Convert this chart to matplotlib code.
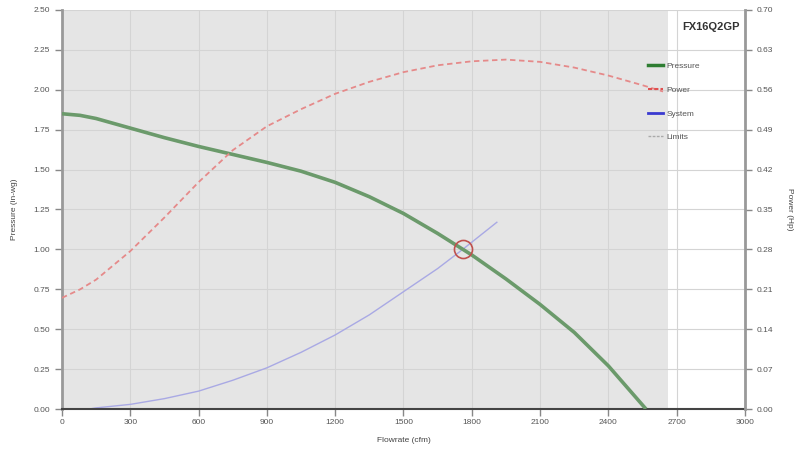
import matplotlib.pyplot as plt
from matplotlib.lines import Line2D

plt.rcParams['font.family'] = ['Liberation Sans', 'DejaVu Sans']

# Fan curve data
pressure_cfm = [0, 79, 150, 300, 450, 600, 750, 900, 1050, 1200, 1350, 1500, 1650, 1800, 1950, 2100, 2250,
                2400, 2565]
pressure_inwg = [1.85, 1.84, 1.82, 1.76, 1.70, 1.645, 1.595, 1.545, 1.49, 1.42, 1.33, 1.225, 1.10, 0.965,
                 0.815, 0.655, 0.48, 0.27, 0.0]

# power in Hp (right axis)
power_cfm = [0, 80, 150, 300, 450, 600, 750, 900, 1050, 1200, 1350, 1500, 1650, 1800, 1950, 2100, 2250,
             2400, 2550, 2640]
power_hp = [0.195, 0.210, 0.227, 0.277, 0.336, 0.398, 0.454, 0.496, 0.526, 0.553, 0.574, 0.591, 0.603,
            0.610, 0.613, 0.609, 0.599, 0.585, 0.568, 0.557]

system_cfm = [120, 150, 300, 450, 600, 750, 900, 1050, 1200, 1350, 1500, 1650, 1760, 1910]
system_inwg = [0.0, 0.007, 0.029, 0.065, 0.112, 0.18, 0.258, 0.355, 0.464, 0.59, 0.735, 0.88, 1.0, 1.17]

op_point = (1760, 1.0)
limit_cfm = 2660
model = 'FX16Q2GP'

x_ticks = [0, 300, 600, 900, 1200, 1500, 1800, 2100, 2400, 2700, 3000]
p_ticks = [0, 0.25, 0.5, 0.75, 1.0, 1.25, 1.5, 1.75, 2.0, 2.25, 2.5]
hp_ticks = [0, 0.07, 0.14, 0.21, 0.28, 0.35, 0.42, 0.49, 0.56, 0.63, 0.70]
hp_labels = ['0.00', '0.07', '0.14', '0.21', '0.28', '0.35', '0.42', '0.49', '0.56', '0.63', '0.70']

fig = plt.figure(figsize=(7.98, 4.51), dpi=100)
ax = fig.add_axes([62 / 798, 42 / 451, 683 / 798, 399 / 451])
ax.set_facecolor('white')
ax.axvspan(0, limit_cfm, color='#e5e5e5', zorder=0, lw=0)

ax.plot(pressure_cfm, pressure_inwg, color='#6b9a6b', lw=2.6, zorder=3, solid_capstyle='butt')
ax.plot(system_cfm, system_inwg, color='#a9a9e4', lw=1.0, zorder=2)
ax.plot(*op_point, marker='o', ms=13, mfc='none', mec='#c0504d', mew=1.2, zorder=4)

ax.set_xlim(0, 3000)
ax.set_ylim(0, 2.5)
ax.set_xticks(x_ticks)
ax.set_yticks(p_ticks)
ax.set_yticklabels([f'{v:.2f}' for v in p_ticks])
ax.grid(True, color='#d4d4d4', lw=0.8, zorder=1)
ax.set_axisbelow(True)

ax.set_xlabel('Flowrate (cfm)', fontsize=6, color='#444444', labelpad=8)
ax.set_ylabel('Pressure (in-wg)', fontsize=6, color='#444444', va='center')
ax.yaxis.set_label_coords((14 - 62) / 683, 0.5)

ax2 = ax.twinx()
ax2.plot(power_cfm, power_hp, color='#e58a8a', lw=1.3, ls=(0, (3, 2)), zorder=3)
ax2.set_ylim(0, 0.70)
ax2.set_yticks(hp_ticks)
ax2.set_yticklabels(hp_labels)
ax2.set_ylabel('Power (Hp)', fontsize=6, color='#444444', rotation=270, va='center')
ax2.yaxis.set_label_coords((790 - 62) / 683, 0.5)

for a in (ax, ax2):
    a.tick_params(labelsize=6, labelcolor='#555555', color='#888888', length=5, width=1)
    a.spines['top'].set_visible(False)
ax.tick_params(axis='x', pad=2)
ax.spines['left'].set_color('#999999')
ax.spines['left'].set_linewidth(2)
ax.spines['right'].set_visible(False)
ax2.spines['left'].set_visible(False)
ax2.spines['right'].set_color('#999999')
ax2.spines['right'].set_linewidth(2)
ax.spines['bottom'].set_color('#444444')
ax.spines['bottom'].set_linewidth(1.5)
ax2.spines['bottom'].set_visible(False)

handles = [
    Line2D([], [], color='#2e7d32', lw=2.5, label='Pressure'),
    Line2D([], [], color='#e05050', lw=1.5, ls=(0, (2, 1)), label='Power'),
    Line2D([], [], color='#3a3ad0', lw=2, label='System'),
    Line2D([], [], color='#aaaaaa', lw=1, ls=(0, (2, 1)), label='Limits'),
]
fig.text(711 / 798, 1 - 27 / 451, model, fontsize=8, fontweight='bold', color='#333333',
         ha='center', va='center')
leg = fig.legend(handles=handles, loc='upper left', bbox_to_anchor=(640 / 798, 1 - 55 / 451),
                 frameon=False, fontsize=6, handlelength=1.8, labelspacing=1.9, handletextpad=0.5)
for t in leg.get_texts():
    t.set_color('#555555')

fig.savefig('out.png', dpi=100)
